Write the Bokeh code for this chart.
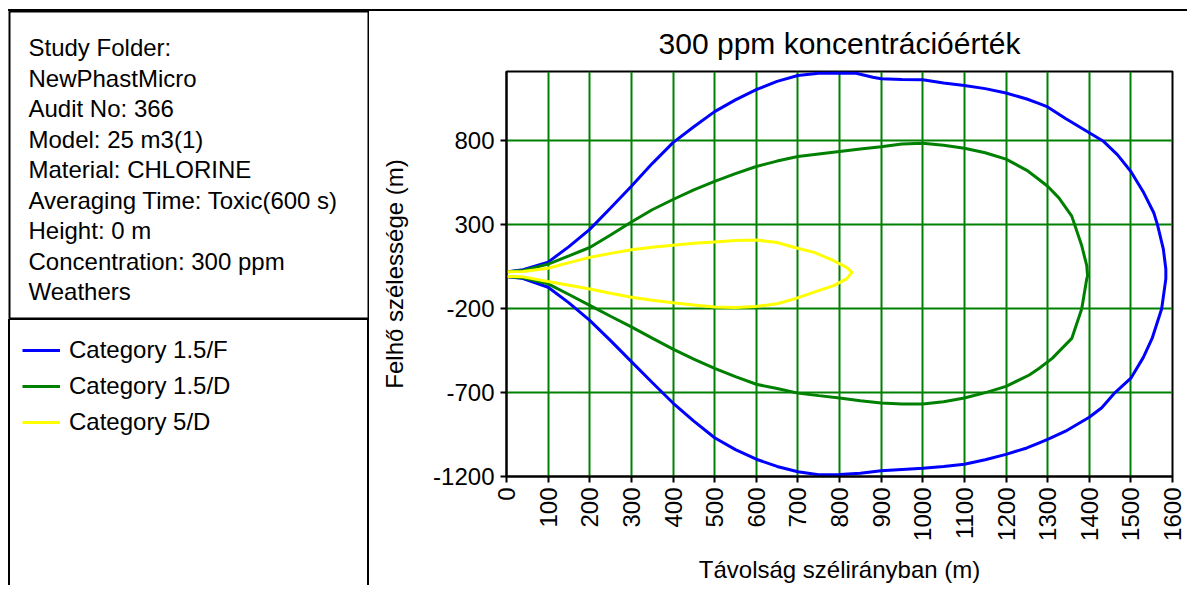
import math
from bokeh.plotting import figure
from bokeh.models import (Range1d, FixedTicker, Legend, LegendItem,
                          ColumnDataSource, PrintfTickFormatter, Div)
from bokeh.layouts import row, column
from bokeh.embed import file_html
from bokeh.resources import INLINE
from bokeh.core.properties import value

FONT = "Liberation Sans"

# ---------------- data ----------------
info_lines = [
    "Study Folder:",
    "NewPhastMicro",
    "Audit No: 366",
    "Model: 25 m3(1)",
    "Material: CHLORINE",
    "Averaging Time: Toxic(600 s)",
    "Height: 0 m",
    "Concentration: 300 ppm",
    "Weathers",
]

series_names = ["Category 1.5/F", "Category 1.5/D", "Category 5/D"]
series_colors = ["#0000ff", "#008000", "#ffff00"]

title_text = "300 ppm koncentrációérték"
x_label = "Távolság szélirányban (m)"
y_label = "Felhő szélessége (m)"

x_ticks = [0, 100, 200, 300, 400, 500, 600, 700, 800, 900, 1000,
           1100, 1200, 1300, 1400, 1500, 1600]
y_ticks = [-1200, -700, -200, 300, 800]

# Category 1.5/F (blue) closed contour
cat_f_x = [0, 40, 100, 150, 200, 250, 300, 350, 400, 450, 500, 550, 600, 650,
           700, 750, 800, 840, 880, 900, 950, 1000, 1050, 1100, 1150, 1200,
           1250, 1280, 1300, 1343, 1400, 1433, 1468, 1500, 1531, 1555, 1564,
           1578, 1584, 1584, 1574, 1551, 1530, 1500, 1462, 1430, 1400, 1343,
           1300, 1280, 1250, 1200, 1150, 1100, 1050, 1000, 950, 900, 850, 800,
           750, 700, 650, 600, 550, 500, 450, 400, 350, 300, 250, 200, 150,
           100, 40, 0]
cat_f_y = [20, 32, 78, 170, 273, 400, 530, 665, 790, 885, 975, 1045, 1106,
           1155, 1190, 1204, 1205, 1204, 1180, 1171, 1167, 1165, 1145, 1131,
           1112, 1086, 1050, 1023, 1003, 934, 849, 800, 717, 618, 491, 372,
           300, 155, 37, -22, -200, -377, -490, -614, -700, -790, -847, -930,
           -979, -999, -1030, -1068, -1100, -1127, -1140, -1151, -1158,
           -1166, -1180, -1188, -1190, -1172, -1140, -1097, -1040, -969,
           -870, -762, -640, -515, -390, -269, -165, -72, -20, -8]

# Category 1.5/D (green) closed contour
cat_d_x = [0, 40, 100, 150, 200, 250, 300, 350, 400, 450, 500, 550, 600, 650,
           700, 750, 800, 850, 900, 950, 1000, 1050, 1100, 1150, 1200, 1250,
           1280, 1300, 1327, 1358, 1382, 1394, 1396, 1394, 1382, 1358, 1311,
           1280, 1256, 1200, 1155, 1100, 1050, 1000, 950, 900, 850, 800, 750,
           700, 650, 600, 550, 500, 450, 400, 350, 300, 250, 200, 150, 100,
           40, 0]
cat_d_y = [20, 28, 66, 115, 165, 240, 317, 390, 451, 508, 559, 605, 648, 680,
           707, 722, 737, 752, 766, 782, 786, 775, 757, 730, 692, 625, 569,
           530, 461, 352, 175, 57, -5, -22, -200, -377, -496, -555, -595,
           -663, -697, -732, -755, -768, -768, -762, -748, -732, -718, -703,
           -676, -650, -605, -555, -500, -441, -375, -308, -245, -180, -115,
           -52, -15, -8]

# Category 5/D (yellow) closed contour
cat_5d_x = [0, 40, 100, 150, 200, 250, 300, 350, 400, 450, 500, 550, 600, 650,
            692, 739, 786, 817, 830, 817, 786, 739, 692, 650, 600, 550, 500,
            450, 400, 350, 300, 250, 200, 150, 100, 40, 0]
cat_5d_y = [20, 22, 41, 75, 106, 130, 151, 167, 179, 190, 198, 206, 210, 195,
            165, 136, 86, 47, 17, -22, -62, -101, -141, -170, -186, -192,
            -190, -178, -164, -150, -131, -108, -82, -60, -38, -10, -8]

series_x = [cat_f_x, cat_d_x, cat_5d_x]
series_y = [cat_f_y, cat_d_y, cat_5d_y]

# ---------------- sizes (screen layout) ----------------
TOTAL_W = 1187
PAD_L = 8
PAD_T = 9
RULE_H = 2
LEFT_W = 361
CHART_W = TOTAL_W - PAD_L - LEFT_W
ROW_H = 585 - PAD_T - RULE_H
INFO_H = 308
SEP_H = 1
LEG_H = ROW_H - INFO_H - SEP_H
EDGE_W = 2


def blank(w, h, color=None):
    st = {"background-color": color} if color else {}
    return Div(text="", width=w, height=h, margin=0, styles=st)


# ---------------- info panel ----------------
INFO_W = LEFT_W - 2
info = figure(width=LEFT_W, height=INFO_H, min_border_left=1,
              min_border_right=1, min_border_top=0, min_border_bottom=0,
              x_range=Range1d(0, INFO_W), y_range=Range1d(0, INFO_H),
              toolbar_location=None, output_backend="svg", title=None)
info.axis.visible = False
info.grid.visible = False
info.outline_line_color = "black"
info.outline_line_width = 2
info.outline_line_alpha = 1.0
line_step = 30.5
first_base = 36
info_src = ColumnDataSource(dict(
    x=[19] * len(info_lines),
    y=[INFO_H - (first_base + i * line_step) for i in range(len(info_lines))],
    t=info_lines))
info.text(x="x", y="y", text="t", source=info_src,
          text_font=value(FONT), text_font_size="24px",
          text_color="black", text_baseline="alphabetic", text_align="left")

# ---------------- legend panel ----------------
LEG_W = LEFT_W - 2 * EDGE_W
leg = figure(width=LEG_W, height=LEG_H, min_border=0,
             x_range=Range1d(0, 1), y_range=Range1d(0, 1),
             toolbar_location=None, output_backend="svg", title=None,
             outline_line_color=None)
leg.axis.visible = False
leg.grid.visible = False
items = []
for name, col in zip(series_names, series_colors):
    r = leg.line(x=[float("nan")], y=[float("nan")], line_color=col,
                 line_width=3)
    items.append(LegendItem(label=name, renderers=[r]))
legend = Legend(items=items, location="top_left", margin=12, padding=13,
                spacing=0, glyph_width=38, glyph_height=36, label_height=36,
                label_standoff=9, label_text_font=FONT,
                label_text_font_size="24px", label_text_color="black",
                border_line_color=None, background_fill_alpha=0)
leg.add_layout(legend)

left_panel = column(
    info,
    blank(LEFT_W, SEP_H, "black"),
    row(blank(EDGE_W, LEG_H, "black"), leg, blank(EDGE_W, LEG_H, "black")),
)

# ---------------- chart ----------------
FRAME_TOP = 60
FRAME_H = 408
p = figure(width=CHART_W, height=ROW_H, x_range=Range1d(0, 1600),
           y_range=Range1d(-1200, 1214), toolbar_location=None,
           output_backend="svg", min_border_left=137, min_border_right=15,
           min_border_top=FRAME_TOP,
           min_border_bottom=ROW_H - FRAME_TOP - FRAME_H)
p.title.text = title_text
p.title.align = "center"
p.title.text_font = FONT
p.title.text_font_size = "30px"
p.title.text_font_style = "normal"
p.title.text_color = "black"
p.title.standoff = 24

p.outline_line_color = "black"
p.outline_line_width = 2
p.outline_line_alpha = 1.0

for ax in (p.xaxis[0], p.yaxis[0]):
    ax.axis_line_color = "black"
    ax.axis_line_width = 2
    ax.major_tick_line_color = "black"
    ax.major_tick_line_width = 2
    ax.major_tick_out = 6
    ax.major_tick_in = 0
    ax.minor_tick_out = 0
    ax.minor_tick_in = 0
    ax.major_label_text_font = FONT
    ax.major_label_text_font_size = "24px"
    ax.major_label_text_color = "black"
    ax.axis_label_text_font = FONT
    ax.axis_label_text_font_size = "24px"
    ax.axis_label_text_font_style = "normal"
    ax.axis_label_text_color = "black"
    ax.formatter = PrintfTickFormatter(format="%d")

p.xaxis.ticker = FixedTicker(ticks=x_ticks, minor_ticks=[])
p.yaxis.ticker = FixedTicker(ticks=y_ticks, minor_ticks=[])
p.xaxis.major_label_orientation = math.pi / 2
p.xaxis.major_label_standoff = 5
p.yaxis.major_label_standoff = 6
p.xaxis.axis_label = x_label
p.yaxis.axis_label = y_label
p.xaxis.axis_label_standoff = 12
p.yaxis.axis_label_standoff = 22

for g in (p.xgrid[0], p.ygrid[0]):
    g.grid_line_color = "#008000"
    g.grid_line_width = 2
    g.grid_line_alpha = 1.0

for xs, ys, col in zip(series_x, series_y, series_colors):
    src = ColumnDataSource(dict(x=xs, y=ys))
    p.line(x="x", y="y", source=src, line_color=col, line_width=3)

layout = column(
    blank(TOTAL_W, PAD_T),
    row(blank(PAD_L, RULE_H), blank(TOTAL_W - PAD_L, RULE_H, "black")),
    row(blank(PAD_L, ROW_H), left_panel, p),
)

open("out.html", "w").write(file_html(layout, INLINE))
